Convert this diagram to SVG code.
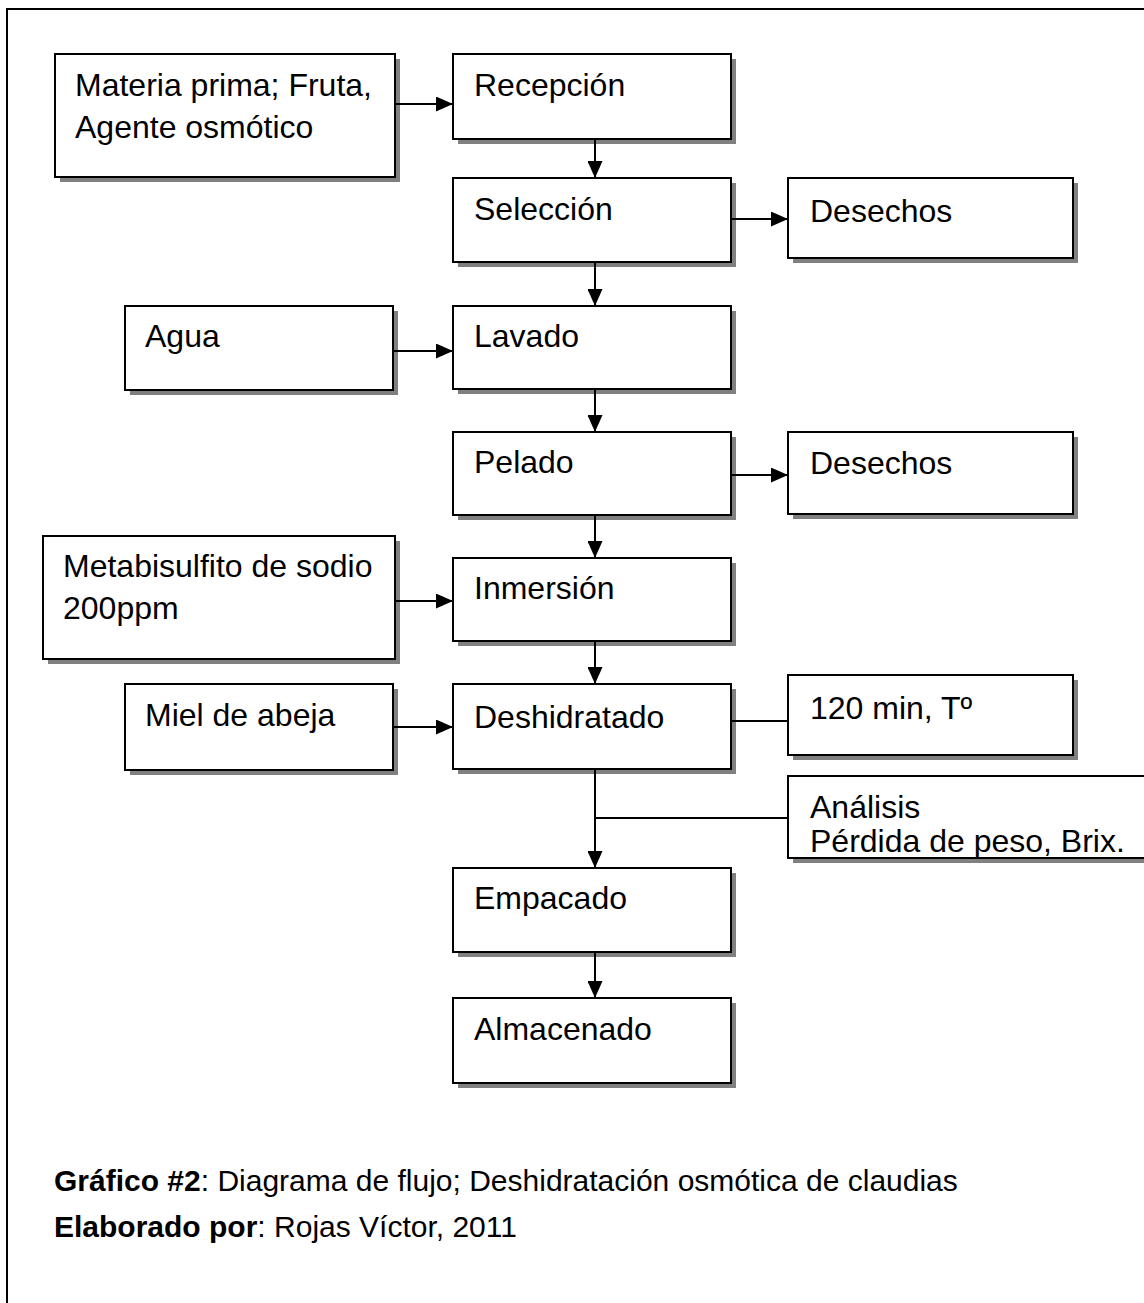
<svg xmlns="http://www.w3.org/2000/svg" width="1144" height="1303" viewBox="0 0 1144 1303">
<style>
.box{fill:#fff;stroke:#000;stroke-width:2}
.sh{fill:#808080}
.t{font-family:"Liberation Sans",Arial,sans-serif;font-size:32px;fill:#000}
.c{font-family:"Liberation Sans",Arial,sans-serif;font-size:30px;fill:#000}
.ln{stroke:#000;stroke-width:2;fill:none}
</style>
<defs>
<marker id="ah" markerWidth="17" markerHeight="15" refX="17" refY="7.5" orient="auto" markerUnits="userSpaceOnUse">
<path d="M0,0 L17,7.5 L0,15 Z" fill="#000"/>
</marker>
</defs>
<rect x="0" y="0" width="1144" height="1303" fill="#fff"/>
<path d="M7,1303 V9 H1144" class="ln" stroke-width="2.5"/>

<g id="materia"><rect class="sh" x="60" y="59" width="340" height="123"/><rect class="box" x="55" y="54" width="340" height="123"/><text class="t" x="75" y="96">Materia prima; Fruta,</text><text class="t" x="75" y="138">Agente osmótico</text></g>
<g id="recepcion"><rect class="sh" x="458" y="59" width="278" height="85"/><rect class="box" x="453" y="54" width="278" height="85"/><text class="t" x="474" y="96">Recepción</text></g>
<g id="seleccion"><rect class="sh" x="458" y="183" width="278" height="84"/><rect class="box" x="453" y="178" width="278" height="84"/><text class="t" x="474" y="220">Selección</text></g>
<g id="desechos1"><rect class="sh" x="793" y="183" width="285" height="80"/><rect class="box" x="788" y="178" width="285" height="80"/><text class="t" x="810" y="222">Desechos</text></g>
<g id="agua"><rect class="sh" x="130" y="311" width="268" height="84"/><rect class="box" x="125" y="306" width="268" height="84"/><text class="t" x="145" y="347">Agua</text></g>
<g id="lavado"><rect class="sh" x="458" y="311" width="278" height="83"/><rect class="box" x="453" y="306" width="278" height="83"/><text class="t" x="474" y="347">Lavado</text></g>
<g id="pelado"><rect class="sh" x="458" y="437" width="278" height="83"/><rect class="box" x="453" y="432" width="278" height="83"/><text class="t" x="474" y="473">Pelado</text></g>
<g id="desechos2"><rect class="sh" x="793" y="437" width="285" height="82"/><rect class="box" x="788" y="432" width="285" height="82"/><text class="t" x="810" y="474">Desechos</text></g>
<g id="metabisulfito"><rect class="sh" x="48" y="541" width="352" height="123"/><rect class="box" x="43" y="536" width="352" height="123"/><text class="t" x="63" y="577">Metabisulfito de sodio</text><text class="t" x="63" y="619">200ppm</text></g>
<g id="inmersion"><rect class="sh" x="458" y="563" width="278" height="83"/><rect class="box" x="453" y="558" width="278" height="83"/><text class="t" x="474" y="599">Inmersión</text></g>
<g id="miel"><rect class="sh" x="130" y="689" width="268" height="86"/><rect class="box" x="125" y="684" width="268" height="86"/><text class="t" x="145" y="726">Miel de abeja</text></g>
<g id="deshidratado"><rect class="sh" x="458" y="689" width="278" height="85"/><rect class="box" x="453" y="684" width="278" height="85"/><text class="t" x="474" y="728">Deshidratado</text></g>
<g id="tiempo"><rect class="sh" x="793" y="680" width="285" height="80"/><rect class="box" x="788" y="675" width="285" height="80"/><text class="t" x="810" y="719">120 min, Tº</text></g>
<g id="analisis"><rect class="sh" x="793" y="781" width="360" height="82"/><rect class="box" x="788" y="776" width="360" height="82"/><text class="t" x="810" y="818">Análisis</text><text class="t" x="810" y="852">Pérdida de peso, Brix.</text></g>
<g id="empacado"><rect class="sh" x="458" y="873" width="278" height="84"/><rect class="box" x="453" y="868" width="278" height="84"/><text class="t" x="474" y="909">Empacado</text></g>
<g id="almacenado"><rect class="sh" x="458" y="1003" width="278" height="85"/><rect class="box" x="453" y="998" width="278" height="85"/><text class="t" x="474" y="1040">Almacenado</text></g>

<g id="connectors" class="ln">
<path d="M395,104 H453" marker-end="url(#ah)"/>
<path d="M595,139 V178" marker-end="url(#ah)"/>
<path d="M731,219 H788" marker-end="url(#ah)"/>
<path d="M595,262 V306" marker-end="url(#ah)"/>
<path d="M393,351 H453" marker-end="url(#ah)"/>
<path d="M595,389 V432" marker-end="url(#ah)"/>
<path d="M731,475 H788" marker-end="url(#ah)"/>
<path d="M595,515 V558" marker-end="url(#ah)"/>
<path d="M395,601 H453" marker-end="url(#ah)"/>
<path d="M595,641 V684" marker-end="url(#ah)"/>
<path d="M393,727 H453" marker-end="url(#ah)"/>
<path d="M731,721 H788"/>
<path d="M595,769 V868" marker-end="url(#ah)"/>
<path d="M595,818 H788"/>
<path d="M595,952 V998" marker-end="url(#ah)"/>
</g>

<g id="caption">
<text class="c" x="54" y="1191"><tspan font-weight="bold">Gráfico #2</tspan>: Diagrama de flujo; Deshidratación osmótica de claudias</text>
<text class="c" x="54" y="1237"><tspan font-weight="bold">Elaborado por</tspan>: Rojas Víctor, 2011</text>
</g>
</svg>
